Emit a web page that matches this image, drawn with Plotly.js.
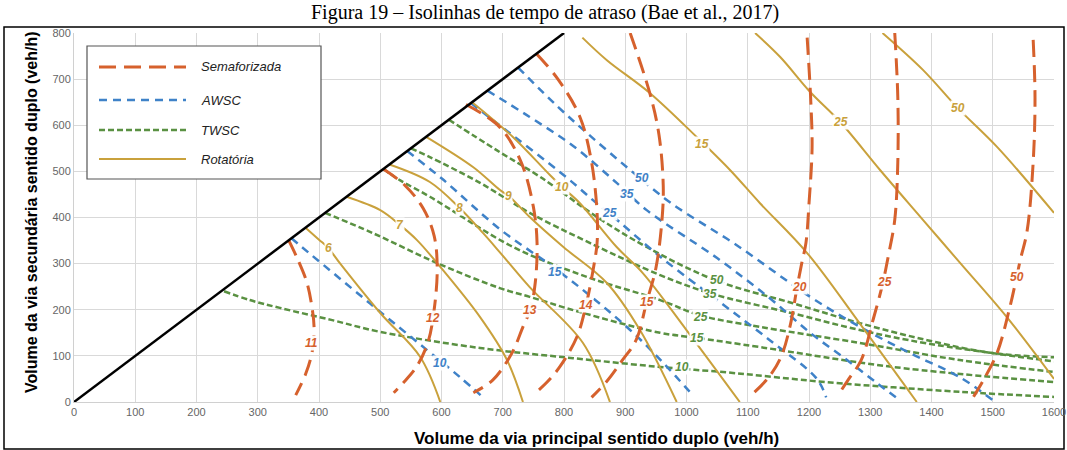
<!DOCTYPE html>
<html><head><meta charset="utf-8">
<script src="https://cdn.plot.ly/plotly-3.0.1.min.js"></script>
<style>html,body{margin:0;padding:0;background:#fff}#chart{width:1067px;height:450px}</style>
</head><body><div id="chart"></div>
<script>
// ---- data ----
const diagX = [0, 800], diagY = [0, 800];

// Semaforizada (signalized) isolines
const sem11X = [350, 365, 380, 388, 392, 389, 378, 362];
const sem11Y = [352, 310, 260, 210, 160, 110, 60, 15];
const sem12X = [505, 540, 570, 588, 593, 588, 578, 560, 540, 522];
const sem12Y = [505, 470, 420, 360, 290, 200, 130, 78, 45, 20];
const sem13X = [640, 695, 730, 750, 756, 753, 745, 733, 715, 684, 652];
const sem13Y = [645, 596, 520, 423, 345, 258, 200, 163, 106, 48, 20];
const sem14X = [755, 790, 826, 845, 854, 854, 848, 836, 821, 793, 770, 749];
const sem14Y = [755, 700, 618, 520, 410, 345, 290, 210, 141, 76, 40, 15];
const sem15X = [908, 940, 955, 962, 960, 950, 935, 918, 895, 870, 845];
const sem15Y = [800, 670, 580, 470, 395, 290, 217, 135, 90, 45, 10];
const sem20X = [1197, 1203, 1205, 1200, 1195, 1188, 1180, 1170, 1155, 1135, 1110];
const sem20Y = [790, 650, 550, 430, 345, 300, 245, 170, 100, 55, 20];
const sem25X = [1340, 1345, 1345, 1340, 1330, 1320, 1305, 1285, 1265, 1250];
const sem25Y = [800, 660, 520, 395, 320, 255, 180, 90, 50, 20];
const sem50X = [1566, 1569, 1566, 1556, 1545, 1528, 1507, 1485, 1468];
const sem50Y = [785, 660, 520, 370, 308, 206, 106, 48, 10];

// AWSC isolines
const aw10X = [355, 372, 483, 576, 630, 668];
const aw10Y = [355, 336, 214, 113, 54, 10];
const aw15X = [544, 600, 695, 785, 854, 913, 962, 1010];
const aw15Y = [544, 485, 375, 290, 218, 150, 85, 15];
const aw25X = [648, 690, 805, 854, 875, 957, 1050, 1136, 1213, 1228];
const aw25Y = [648, 605, 486, 430, 408, 315, 221, 134, 50, 10];
const aw35X = [675, 744, 815, 886, 935, 1050, 1136, 1202, 1262, 1311, 1350];
const aw35Y = [675, 618, 555, 475, 416, 312, 225, 150, 91, 41, 2];
const aw50X = [725, 790, 842, 908, 975, 1082, 1202, 1283, 1365, 1446, 1500];
const aw50Y = [725, 640, 578, 503, 431, 340, 228, 163, 106, 54, 4];

// TWSC isolines
const tw10X = [245, 287, 336, 420, 500, 663, 815, 957, 1076, 1229, 1446, 1600];
const tw10Y = [240, 221, 204, 178, 152, 117, 95, 76, 63, 43, 22, 11];
const tw15X = [410, 488, 593, 695, 744, 826, 957, 1017, 1120, 1337, 1600];
const tw15Y = [410, 366, 301, 247, 228, 195, 150, 139, 119, 76, 43];
const tw25X = [505, 532, 581, 717, 840, 957, 1022, 1120, 1283, 1446, 1600];
const tw25Y = [505, 481, 445, 336, 270, 221, 188, 163, 128, 91, 65];
const tw35X = [550, 581, 663, 744, 842, 957, 1038, 1174, 1283, 1393, 1600];
const tw35Y = [550, 531, 475, 410, 345, 275, 236, 192, 156, 127, 88];
const tw50X = [612, 690, 761, 854, 935, 1047, 1174, 1283, 1393, 1500, 1600];
const tw50Y = [612, 546, 488, 401, 336, 264, 214, 171, 134, 106, 97];

// Rotatória (roundabout) isolines
const rot6X = [378, 400, 415, 434, 500, 565, 598];
const rot6Y = [378, 352, 334, 301, 193, 98, 0];
const rot7X = [445, 500, 532, 560, 598, 663, 707, 733];
const rot7Y = [445, 416, 384, 351, 293, 184, 91, 0];
const rot8X = [515, 581, 630, 668, 695, 744, 831, 875];
const rot8Y = [515, 477, 420, 366, 325, 249, 128, 0];
const rot9X = [575, 652, 695, 712, 744, 799, 870, 924, 984];
const rot9Y = [575, 509, 460, 444, 401, 336, 258, 156, 0];
const rot10X = [650, 717, 777, 797, 826, 886, 929, 1000, 1087];
const rot10Y = [650, 574, 492, 466, 431, 336, 279, 156, 0];
const rot15X = [830, 870, 940, 1017, 1071, 1120, 1197, 1283, 1376];
const rot15Y = [790, 741, 670, 574, 503, 431, 323, 170, 0];
const rot25X = [1112, 1153, 1202, 1251, 1316, 1386, 1447, 1523, 1600];
const rot25Y = [800, 748, 672, 607, 503, 395, 301, 184, 50];
const rot50X = [1320, 1386, 1443, 1507, 1600];
const rot50Y = [800, 720, 637, 553, 410];

// label texts and their anchor values
const semLabText = ['11', '12', '13', '14', '15', '20', '25', '50'];
const semLabX = [387, 586, 745, 836, 936, 1184, 1323, 1540];
const semLabY = [128, 182, 200, 210, 217, 249, 260, 270];
const awLabText = ['10', '15', '25', '35', '50'];
const awLabX = [598, 785, 875, 903, 927];
const awLabY = [85, 282, 410, 451, 486];
const twLabText = ['10', '15', '25', '35', '50'];
const twLabX = [993, 1017, 1023, 1038, 1049];
const twLabY = [76, 139, 184, 234, 264];
const rotLabText = ['6', '7', '8', '9', '10', '15', '25', '50'];
const rotLabX = [415, 532, 630, 710, 797, 1025, 1251, 1443];
const rotLabY = [334, 384, 420, 447, 466, 560, 607, 637];

const legendNames = ['Semaforizada', 'AWSC', 'TWSC', 'Rotatória'];
const xTitle = 'Volume da via principal sentido duplo (veh/h)';
const yTitle = 'Volume da via secundária sentido duplo (veh/h)';
const caption = 'Figura 19 – Isolinhas de tempo de atraso (Bae et al., 2017)';

// ---- styles ----
const C_SEM = '#d6612d', C_AW = '#3f82c8', C_TW = '#5a9142', C_ROT = '#c9a13c';
const sSem = {color: C_SEM, width: 3, dash: '17px,8px'};
const sAw = {color: C_AW, width: 2.5, dash: '8px,6px'};
const sTw = {color: C_TW, width: 2.5, dash: '6px,3px'};
const sRot = {color: C_ROT, width: 2, dash: 'solid'};
const FONT = 'Liberation Sans, Arial, sans-serif';

const traces = [];
function add(x, y, st) {
  traces.push({x: x, y: y, mode: 'lines', type: 'scatter', showlegend: false, hoverinfo: 'skip',
    line: Object.assign({shape: 'spline', smoothing: 1}, st)});
}
[[tw10X,tw10Y],[tw15X,tw15Y],[tw25X,tw25Y],[tw35X,tw35Y],[tw50X,tw50Y]].forEach(p => add(p[0], p[1], sTw));
[[aw10X,aw10Y],[aw15X,aw15Y],[aw25X,aw25Y],[aw35X,aw35Y],[aw50X,aw50Y]].forEach(p => add(p[0], p[1], sAw));
[[rot6X,rot6Y],[rot7X,rot7Y],[rot8X,rot8Y],[rot9X,rot9Y],[rot10X,rot10Y],[rot15X,rot15Y],[rot25X,rot25Y],[rot50X,rot50Y]].forEach(p => add(p[0], p[1], sRot));
[[sem11X,sem11Y],[sem12X,sem12Y],[sem13X,sem13Y],[sem14X,sem14Y],[sem15X,sem15Y],[sem20X,sem20Y],[sem25X,sem25Y],[sem50X,sem50Y]].forEach(p => add(p[0], p[1], sSem));
traces.push({x: diagX, y: diagY, mode: 'lines', showlegend: false, hoverinfo: 'skip', line: {color: '#000', width: 2.5}});

const annotations = [];
function labels(txt, xs, ys, color) {
  txt.forEach((t, i) => annotations.push({x: xs[i], y: ys[i], xref: 'x', yref: 'y', text: t, showarrow: false,
    bgcolor: 'rgba(255,255,255,0.95)', borderpad: 0,
    font: {family: FONT, size: 12, color: color, weight: 'bold', style: 'italic'}}));
}
labels(semLabText, semLabX, semLabY, C_SEM);
labels(awLabText, awLabX, awLabY, C_AW);
labels(twLabText, twLabX, twLabY, C_TW);
labels(rotLabText, rotLabX, rotLabY, C_ROT);

// pixel -> paper helpers (plot area: x 74..1054, y 33..402)
const L = 74, T = 33, W = 980, H = 369;
const px = v => (v - L) / W, py = v => (T + H - v) / H;

const shapes = [];
// outer frame
shapes.push({type: 'rect', xref: 'paper', yref: 'paper', x0: px(4), x1: px(1064), y0: py(449), y1: py(27),
  line: {color: '#000', width: 1.5}, fillcolor: 'rgba(0,0,0,0)', layer: 'below'});
// legend box
shapes.push({type: 'rect', xref: 'paper', yref: 'paper', x0: px(87), x1: px(321), y0: py(179), y1: py(46),
  line: {color: '#555', width: 1.2}, fillcolor: '#fff', layer: 'above'});
const legStyles = [sSem, sAw, sTw, sRot];
const legY = [67, 100, 130, 159];
legendNames.forEach((n, i) => {
  shapes.push({type: 'line', xref: 'paper', yref: 'paper', x0: px(99), x1: px(186), y0: py(legY[i]), y1: py(legY[i]),
    line: legStyles[i], layer: 'above'});
  annotations.push({xref: 'paper', yref: 'paper', x: px(199), y: py(legY[i]), xanchor: 'left', yanchor: 'middle',
    text: n, showarrow: false, font: {family: FONT, size: 13, color: '#222', style: 'italic'}});
});
// figure caption at the top
annotations.push({xref: 'paper', yref: 'paper', x: px(545), y: py(13), xanchor: 'center', yanchor: 'middle',
  text: caption, showarrow: false,
  font: {family: 'Liberation Serif, Times New Roman, serif', size: 20, color: '#000'}});
// axis titles
annotations.push({xref: 'paper', yref: 'paper', x: px(596), y: py(438), xanchor: 'center', yanchor: 'middle',
  text: '<b>' + xTitle + '</b>', showarrow: false, font: {family: FONT, size: 17, color: '#000'}});
annotations.push({xref: 'paper', yref: 'paper', x: px(31), y: py(212), xanchor: 'center', yanchor: 'middle',
  textangle: -90, text: '<b>' + yTitle + '</b>', showarrow: false, font: {family: FONT, size: 16, color: '#000'}});

const layout = {
  width: 1067, height: 450,
  margin: {l: L, r: 1067 - L - W, t: T, b: 450 - T - H},
  paper_bgcolor: '#fff', plot_bgcolor: '#fff',
  xaxis: {range: [0, 1600], dtick: 100, tick0: 0, showgrid: true, gridcolor: '#d9d9d9', gridwidth: 1,
    zeroline: false, showline: true, linecolor: '#d0d0d0', ticks: '', automargin: false,
    tickfont: {family: FONT, size: 11, color: '#666'}},
  yaxis: {range: [0, 800], dtick: 100, tick0: 0, showgrid: true, gridcolor: '#d9d9d9', gridwidth: 1,
    zeroline: false, showline: true, linecolor: '#d0d0d0', ticks: '', automargin: false,
    tickfont: {family: FONT, size: 11, color: '#666'}},
  showlegend: false,
  shapes: shapes,
  annotations: annotations
};
Plotly.newPlot('chart', traces, layout, {staticPlot: true, displayModeBar: false});
</script></body></html>
